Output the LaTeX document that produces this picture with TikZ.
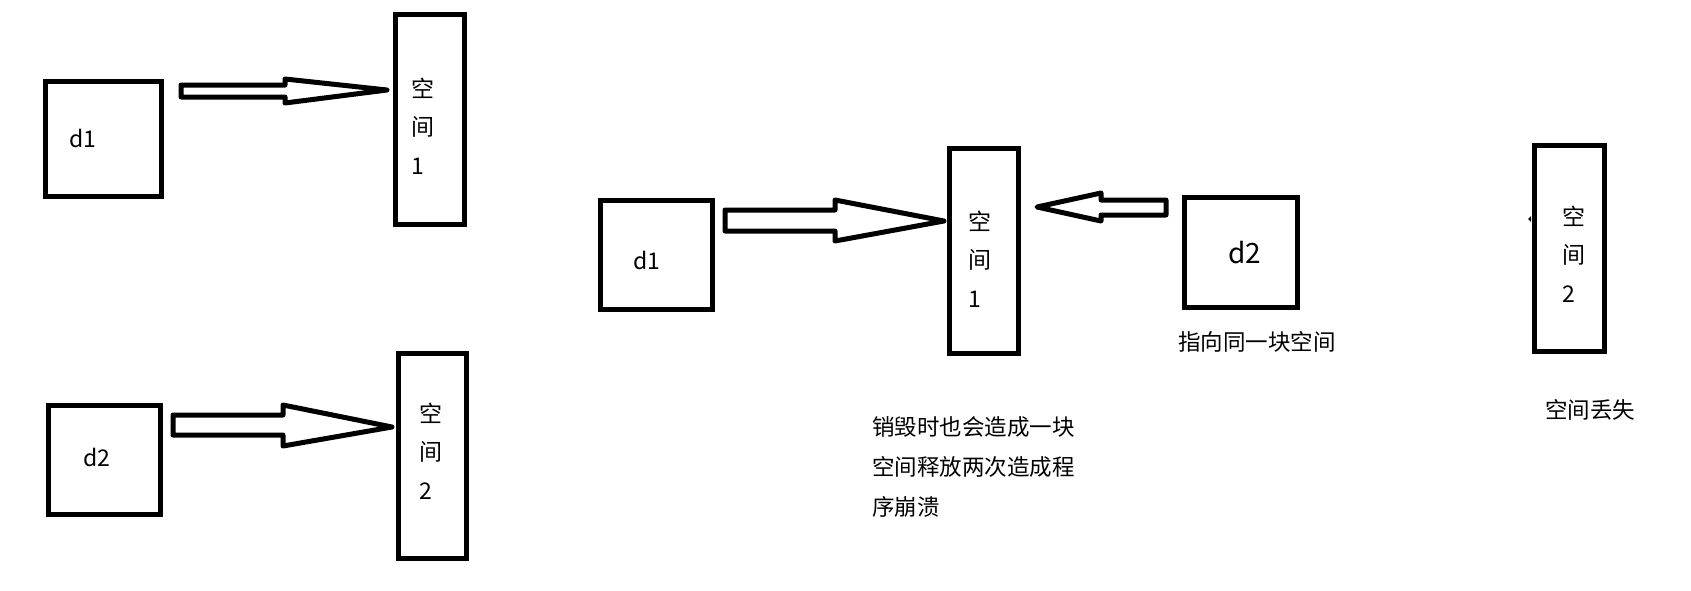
\documentclass[tikz,border=0pt]{standalone}
\usepackage{fontspec}
\newfontfamily\cjk{Noto Sans CJK SC}
\begin{document}
\begin{tikzpicture}[x=1pt,y=-1pt,
  box/.style={draw=black,line width=5pt,inner sep=0pt,outer sep=0pt,fill=white},
  blockarrow/.style={draw=black,line width=5pt,line join=round,fill=white},
  lbl/.style={font=\cjk\fontsize{23}{38.5}\selectfont,inner sep=0pt,align=left},
  note/.style={font=\cjk\fontsize{22.5}{40}\selectfont,inner sep=0pt,align=left}]
\useasboundingbox[fill=white] (0,0) rectangle (1691,590);

% left column
\node[box,minimum width=116pt,minimum height=115pt] (d1a) at (103,138.5) {};
\node[box,minimum width=69pt,minimum height=210pt] (s1a) at (429.5,119) {};
\node[box,minimum width=112pt,minimum height=109pt] (d2a) at (104,459.5) {};
\node[box,minimum width=68pt,minimum height=205pt] (s2a) at (432,455.5) {};
\node[lbl] (td1a) at (83,138) {d1};
\node[lbl] (td2a) at (97,457) {d2};
\node[lbl,anchor=west] (ts1a) at (411,126) {空\\间\\1};
\node[lbl,anchor=west] (ts2a) at (419,451) {空\\间\\2};

\draw[blockarrow] (181,85) -- (285,85) -- (285,79) -- (387,90) -- (285,103) -- (285,97) -- (181,97) -- cycle;
\draw[blockarrow] (173,415) -- (283,415) -- (283,405) -- (392,427) -- (283,446) -- (283,435) -- (173,435) -- cycle;

% middle
\node[box,minimum width=112pt,minimum height=109pt] (d1b) at (656,254.5) {};
\node[box,minimum width=69pt,minimum height=205pt] (s1b) at (983.5,250.5) {};
\node[box,minimum width=113pt,minimum height=110pt] (d2b) at (1240.5,252) {};
\node[lbl] (td1b) at (647,260) {d1};
\node[lbl,font=\cjk\fontsize{28}{34}\selectfont] (td2b) at (1245,253) {d2};
\node[lbl,anchor=west] (ts1b) at (968,259) {空\\间\\1};

\draw[blockarrow] (725,210) -- (835,210) -- (835,200) -- (944,221) -- (835,241) -- (835,231) -- (725,231) -- cycle;
\draw[blockarrow] (1166,200) -- (1101,200) -- (1101,193) -- (1037,207) -- (1101,221) -- (1101,215) -- (1166,215) -- cycle;

\node[note,anchor=west] (n1) at (1178,342) {指向同一块空间};
\node[note,anchor=north west] (n2) at (872,416) {销毁时也会造成一块\\空间释放两次造成程\\序崩溃};

% right
\node[box,minimum width=70pt,minimum height=206pt] (s2b) at (1569,248) {};
\node[lbl,anchor=west] (ts2b) at (1562,254) {空\\间\\2};
\fill (1531,216) -- (1528,219) -- (1531,222) -- cycle;
\node[note,anchor=west] (n3) at (1545,410) {空间丢失};
\end{tikzpicture}
\end{document}
